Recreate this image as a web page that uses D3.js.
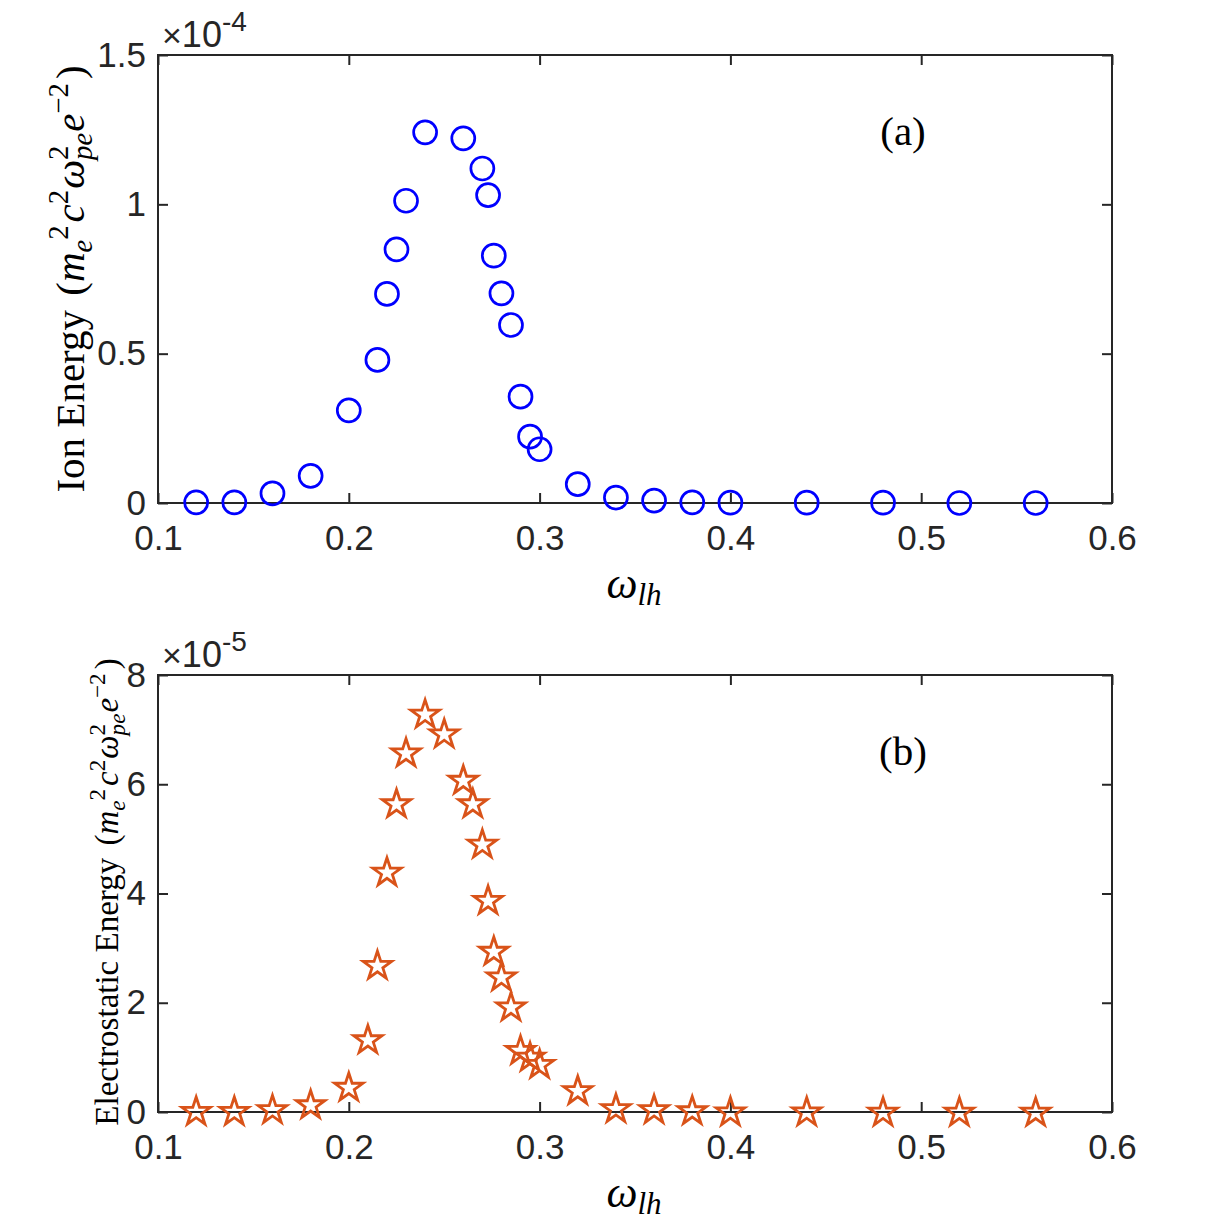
<!DOCTYPE html>
<html><head><meta charset="utf-8">
<script src="https://cdn.jsdelivr.net/npm/d3@7"></script>
<style>body{margin:0;background:#fff}svg{display:block}</style>
</head><body>
<script>
// ---- data ----
const xIon = [0.12,0.14,0.16,0.18,0.2,0.215,0.22,0.225,0.23,0.24,0.26,0.27,0.273,0.276,0.28,0.285,0.29,0.295,0.3,0.32,0.34,0.36,0.38,0.4,0.44,0.48,0.52,0.56];
const yIon = [0.002,0.002,0.032,0.091,0.31,0.479,0.70,0.849,1.012,1.241,1.221,1.12,1.031,0.828,0.702,0.596,0.356,0.222,0.18,0.063,0.018,0.008,0.002,0.001,0.001,0.001,0.0,0.0];
const xEs = [0.12,0.14,0.16,0.18,0.2,0.21,0.215,0.22,0.225,0.23,0.24,0.25,0.26,0.265,0.27,0.273,0.276,0.28,0.285,0.29,0.295,0.3,0.32,0.34,0.36,0.38,0.4,0.44,0.48,0.52,0.56];
const yEs = [0.02,0.02,0.05,0.14,0.46,1.33,2.69,4.40,5.65,6.58,7.29,6.93,6.08,5.65,4.91,3.88,2.95,2.48,1.93,1.135,1.01,0.88,0.40,0.07,0.05,0.03,0.01,0.01,0.005,0.005,0.003];
const xTicks = [0.1,0.2,0.3,0.4,0.5,0.6];
const yTicksA = [0,0.5,1,1.5];
const yTicksB = [0,2,4,6,8];

const W = 1230, H = 1230;
const svg = d3.select("body").append("svg").attr("width", W).attr("height", H);
svg.append("rect").attr("width", W).attr("height", H).attr("fill", "#fff");

const AX = "#262626";
const SANS = "'Liberation Sans', Arial, Helvetica, sans-serif";
const SERIF = "'Liberation Serif', 'Times New Roman', serif";

function panel(cfg) {
  const x = d3.scaleLinear().domain([0.1, 0.6]).range([158, 1112]);
  const y = d3.scaleLinear().domain(cfg.ydom).range([cfg.bottom, cfg.top]);
  const g = svg.append("g");
  const style = sel => {
    sel.select(".domain").remove();
    sel.selectAll("line").attr("stroke", AX).attr("stroke-width", 2);
    sel.selectAll("text").attr("fill", AX).style("font-family", SANS).style("font-size", "35px");
  };
  g.append("g").attr("transform", `translate(0,${cfg.bottom})`)
    .call(d3.axisBottom(x).tickValues(xTicks).tickSize(-10).tickPadding(22).tickFormat(d3.format("")))
    .call(style);
  g.append("g").attr("transform", `translate(0,${cfg.top})`)
    .call(d3.axisTop(x).tickValues(xTicks).tickSize(-10).tickFormat(""))
    .call(style);
  g.append("g").attr("transform", `translate(158,0)`)
    .call(d3.axisLeft(y).tickValues(cfg.yticks).tickSize(-10).tickPadding(12).tickFormat(d3.format("")))
    .call(style);
  g.append("g").attr("transform", `translate(1112,0)`)
    .call(d3.axisRight(y).tickValues(cfg.yticks).tickSize(-10).tickFormat(""))
    .call(style);
  // box
  g.append("rect").attr("x", 158).attr("y", cfg.top).attr("width", 1112 - 158).attr("height", cfg.bottom - cfg.top)
    .attr("fill", "none").attr("stroke", AX).attr("stroke-width", 2);

  // exponent
  const ex = g.append("text").attr("x", 162).attr("y", cfg.top - 8).attr("fill", AX)
    .style("font-family", SANS).style("font-size", "36px");
  ex.append("tspan").text("\u00D7").style("font-size", "34px");
  ex.append("tspan").text("10");
  ex.append("tspan").text(cfg.exp).attr("dy", -16).style("font-size", "28px");

  // x-axis title
  const xt = g.append("text").attr("x", 634).attr("y", cfg.bottom + 95).attr("text-anchor", "middle")
    .style("font-family", SERIF).style("font-style", "italic").attr("fill", "#000");
  xt.append("tspan").text("\u03C9").style("font-size", "44px");
  xt.append("tspan").text("lh").attr("dy", 7).style("font-size", "31px");

  // panel label
  g.append("text").attr("x", 903).attr("y", cfg.top + cfg.labDy).attr("text-anchor", "middle")
    .style("font-family", SERIF).style("font-size", "41px").attr("fill", "#000").text(cfg.panel);

  // y-axis title
  const fs = cfg.yfs;
  const yt = g.append("text").attr("transform", `translate(${cfg.ylx},${cfg.yly}) rotate(-90)`)
    .attr("text-anchor", "middle").style("font-family", SERIF).attr("fill", "#000").style("font-size", fs + "px");
  const sub = fs * 0.7, up = fs * 0.38, dn = fs * 0.2;
  let cur = 0;
  function add(t, opt) {
    opt = opt || {};
    const target = opt.sup ? -up : opt.sub ? dn : 0;
    const ts = yt.append("tspan").text(t).attr("dy", target - cur);
    cur = target;
    if (opt.it) ts.style("font-style", "italic");
    if (opt.sup || opt.sub) ts.style("font-size", sub + "px");
    if (opt.dx) ts.attr("dx", opt.dx);
    return ts;
  }
  add(cfg.ytitle + " ");
  add("(", {dx: 4});
  add("m", {it: true});
  add("e", {it: true, sub: true});
  add("2", {sup: true});
  add("c", {it: true, dx: 3});
  add("2", {sup: true});
  add("\u03C9", {it: true, dx: 1});
  add("2", {sup: true});
  add("pe", {it: true, sub: true, dx: -sub * 0.5});
  add("e", {it: true, dx: 1});
  add("\u22122", {sup: true});
  add(")", {dx: 4});

  return {x, y, g};
}

const A = panel({ydom: [0, 1.5], top: 55, bottom: 503, yticks: yTicksA, exp: "-4", panel: "(a)", labDy: 90,
  ytitle: "Ion Energy", yfs: 41, ylx: 84, yly: 279});
const B = panel({ydom: [0, 8], top: 675, bottom: 1112, yticks: yTicksB, exp: "-5", panel: "(b)", labDy: 90,
  ytitle: "Electrostatic Energy", yfs: 33, ylx: 118, yly: 892});

A.g.selectAll("circle.pt").data(xIon.map((d, i) => [d, yIon[i]])).enter().append("circle")
  .attr("class", "pt").attr("cx", d => A.x(d[0])).attr("cy", d => A.y(d[1])).attr("r", 11.5)
  .attr("fill", "none").attr("stroke", "#0000FF").attr("stroke-width", 2.7);

const star = d3.symbol().type(d3.symbolStar).size(250);
B.g.selectAll("path.pt").data(xEs.map((d, i) => [d, yEs[i]])).enter().append("path")
  .attr("class", "pt").attr("d", star)
  .attr("transform", d => `translate(${B.x(d[0])},${B.y(d[1]) + 1})`)
  .attr("fill", "none").attr("stroke", "#D95319").attr("stroke-width", 2.8).attr("stroke-linejoin", "miter");
</script>
</body></html>
